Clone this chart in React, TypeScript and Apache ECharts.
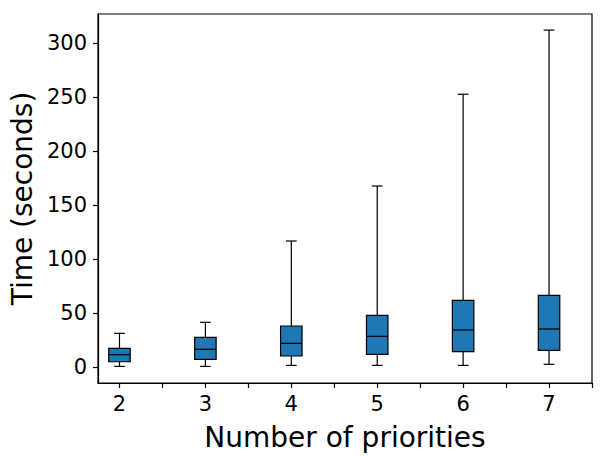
import React, { useEffect, useRef } from "react";
import * as echarts from "echarts";

const categories = [2, 3, 4, 5, 6, 7];
const whiskerLow = [0.6, 0.6, 1.5, 1.5, 1.5, 2.5];
const q1 = [4.9, 7.1, 10.2, 11.7, 14.2, 15.4];
const median = [11.4, 16.4, 21.9, 28.4, 34.3, 35.2];
const q3 = [17.3, 27.5, 38.0, 47.8, 61.7, 66.4];
const whiskerHigh = [31.2, 41.4, 116.7, 167.6, 252.6, 312.0];
const yTicks = [0, 50, 100, 150, 200, 250, 300];
const xMinorTicks = [2, 2.5, 3, 3.5, 4, 4.5, 5, 5.5, 6, 6.5, 7, 7.5];

export default function App() {
  const ref = useRef<HTMLDivElement>(null);
  useEffect(() => {
    document.body.style.margin = "0";
    const chart = echarts.init(ref.current!, null, { renderer: "svg" });
    const data = categories.map((c, i) => [c, whiskerLow[i], q1[i], median[i], q3[i], whiskerHigh[i]]);
    const font = "DejaVu Sans";
    const lw = 1.2;
    chart.setOption({
      animation: false,
      backgroundColor: "#ffffff",
      grid: { left: 96, top: 14, width: 496, height: 369, show: true, borderColor: "#000", borderWidth: 1.2, backgroundColor: "transparent" },
      xAxis: {
        type: "value",
        min: 1.75,
        max: 7.5,
        name: "Number of priorities",
        nameLocation: "middle",
        nameGap: 40,
        nameTextStyle: { fontFamily: font, fontSize: 28, color: "#000" },
        axisLine: { show: true, onZero: false, lineStyle: { color: "#000", width: lw } },
        axisTick: { show: true, inside: false, length: 5, lineStyle: { color: "#000", width: lw }, customValues: xMinorTicks },
        axisLabel: { show: true, margin: 10, fontFamily: font, fontSize: 21, color: "#000", customValues: categories },
        splitLine: { show: false },
      },
      yAxis: {
        type: "value",
        min: -14.8,
        max: 326.9,
        name: "Time (seconds)",
        nameLocation: "middle",
        nameGap: 62,
        nameTextStyle: { fontFamily: font, fontSize: 28, color: "#000" },
        axisLine: { show: true, onZero: false, lineStyle: { color: "#000", width: lw } },
        axisTick: { show: true, inside: false, length: 5, lineStyle: { color: "#000", width: lw }, customValues: yTicks },
        axisLabel: { show: true, margin: 11, fontFamily: font, fontSize: 21, color: "#000", customValues: yTicks },
        splitLine: { show: false },
      },
      series: [
        {
          type: "custom",
          data,
          renderItem: (params: any, api: any) => {
            const x = api.value(0);
            const vals = [1, 2, 3, 4, 5].map((k) => api.value(k));
            const boxW = api.size([0.25, 0])[0];
            const capW = boxW / 2;
            const cx = api.coord([x, 0])[0];
            const py = vals.map((v) => api.coord([x, v])[1]);
            const line = (x1: number, y1: number, x2: number, y2: number) => ({
              type: "line",
              shape: { x1, y1, x2, y2 },
              style: { stroke: "#000", lineWidth: lw },
            });
            return {
              type: "group",
              children: [
                line(cx, py[1], cx, py[0]),
                line(cx, py[3], cx, py[4]),
                line(cx - capW / 2, py[0], cx + capW / 2, py[0]),
                line(cx - capW / 2, py[4], cx + capW / 2, py[4]),
                {
                  type: "rect",
                  shape: { x: cx - boxW / 2, y: py[3], width: boxW, height: py[1] - py[3] },
                  style: { fill: "#1f77b4", stroke: "#000", lineWidth: lw },
                },
                line(cx - boxW / 2, py[2], cx + boxW / 2, py[2]),
              ],
            };
          },
        },
      ],
    });
    return () => chart.dispose();
  }, []);
  return <div ref={ref} style={{ width: 605, height: 456 }} />;
}
